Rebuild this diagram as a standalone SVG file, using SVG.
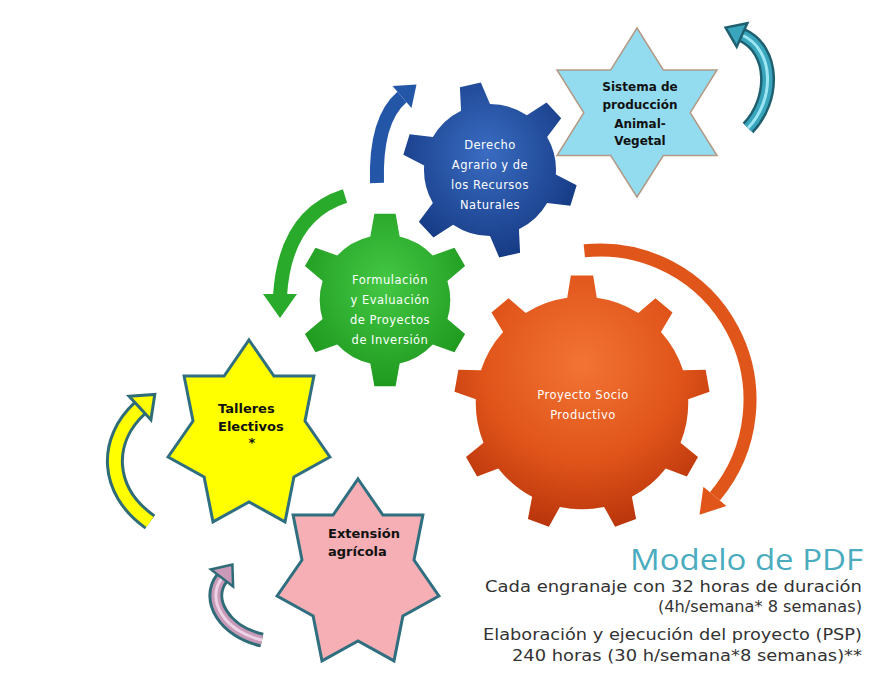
<svg xmlns="http://www.w3.org/2000/svg" width="870" height="673" viewBox="0 0 870 673">
<style>
.gt{font-family:"DejaVu Sans","Liberation Sans",sans-serif;font-size:11.5px;letter-spacing:0.5px;fill:#ffffff;text-anchor:middle}
.st{font-family:"DejaVu Sans","Liberation Sans",sans-serif;font-weight:bold;font-size:12px;fill:#111111}
.foot{font-family:"DejaVu Sans","Liberation Sans",sans-serif;font-size:15px;fill:#333333;text-anchor:end}
.star{stroke:#2f6f80;stroke-width:3;stroke-linejoin:miter}
</style>
<defs>
<path id="gear6" d="M -16.87 -73.08 L -12.19 -99.25 L 12.19 -99.25 L 16.87 -73.08 A 75 75 0 0 1 54.85 -51.15 L 79.86 -60.18 L 92.05 -39.07 L 71.72 -21.93 A 75 75 0 0 1 71.72 21.93 L 92.05 39.07 L 79.86 60.18 L 54.85 51.15 A 75 75 0 0 1 16.87 73.08 L 12.19 99.25 L -12.19 99.25 L -16.87 73.08 A 75 75 0 0 1 -54.85 51.15 L -79.86 60.18 L -92.05 39.07 L -71.72 21.93 A 75 75 0 0 1 -71.72 -21.93 L -92.05 -39.07 L -79.86 -60.18 L -54.85 -51.15 A 75 75 0 0 1 -16.87 -73.08 Z"/>
<path id="gear9" d="M -11.55 -82.19 L -8.72 -99.62 L 8.72 -99.62 L 11.55 -82.19 A 83 83 0 0 1 43.98 -70.39 L 57.36 -81.92 L 70.71 -70.71 L 61.68 -55.54 A 83 83 0 0 1 78.94 -25.65 L 96.59 -25.88 L 99.62 -8.72 L 82.95 -2.90 A 83 83 0 0 1 76.96 31.09 L 90.63 42.26 L 81.92 57.36 L 65.40 51.10 A 83 83 0 0 1 38.97 73.28 L 42.26 90.63 L 25.88 96.59 L 17.26 81.19 A 83 83 0 0 1 -17.26 81.19 L -25.88 96.59 L -42.26 90.63 L -38.97 73.28 A 83 83 0 0 1 -65.40 51.10 L -81.92 57.36 L -90.63 42.26 L -76.96 31.09 A 83 83 0 0 1 -82.95 -2.90 L -99.62 -8.72 L -96.59 -25.88 L -78.94 -25.65 A 83 83 0 0 1 -61.68 -55.54 L -70.71 -70.71 L -57.36 -81.92 L -43.98 -70.39 A 83 83 0 0 1 -11.55 -82.19 Z"/>
<radialGradient id="gBlue" cx="50%" cy="40%" r="60%">
<stop offset="0" stop-color="#3a6cc2"/><stop offset="1" stop-color="#163b85"/>
</radialGradient>
<radialGradient id="gGreen" cx="50%" cy="40%" r="60%">
<stop offset="0" stop-color="#44c844"/><stop offset="1" stop-color="#1f9a1f"/>
</radialGradient>
<radialGradient id="gOrange" cx="50%" cy="35%" r="65%">
<stop offset="0" stop-color="#f27434"/><stop offset="0.6" stop-color="#e0541a"/><stop offset="1" stop-color="#bb360c"/>
</radialGradient>
</defs>

<g id="connectors" fill="none">
<g id="arrow-blue">
<path d="M 377 183 Q 375 120 402 97" stroke="#2456a8" stroke-width="14"/>
<polygon points="392.5,86 416.5,84.5 411.5,108" fill="#2456a8"/>
</g>
<g id="arrow-green">
<path d="M 345 196 Q 285 215 280 296" stroke="#2aaa2a" stroke-width="14"/>
<polygon points="263,294 297,294 280,318" fill="#2aaa2a"/>
</g>
<g id="arrow-orange">
<path d="M 584.3 250.8 A 150 150 0 0 1 714.9 496.4" stroke="#e0561a" stroke-width="13"/>
<polygon points="726.4,506 703.4,486.8 699.5,514.8" fill="#e0561a"/>
</g>
<g id="arrow-teal">
<path d="M 748 128 C 775 100 775 50 742 35" stroke="#1e6070" stroke-width="15"/>
<path d="M 748 128 C 775 100 775 50 742 35" stroke="#3aa6bd" stroke-width="10"/>
<path d="M 748 128 C 775 100 775 50 742 35" stroke="#9be6f2" stroke-width="3"/>
<polygon points="747.3,23.2 736.7,46.8 725.6,27.6" fill="#3aa6bd" stroke="#1e6070" stroke-width="2.5"/>
</g>
<g id="arrow-yellow">
<path d="M 150 522 C 105 490 105 440 140 408" stroke="#2e6c78" stroke-width="18"/>
<path d="M 150 522 C 105 490 105 440 140 408" stroke="#ffff00" stroke-width="12"/>
<polygon points="150.9,419.8 129.1,396.2 154.8,394.4" fill="#ffff00" stroke="#2e6c78" stroke-width="3"/>
</g>
<g id="arrow-pink">
<path d="M 262 640 C 225 632 205 600 222 578" stroke="#2e6c78" stroke-width="15"/>
<path d="M 262 640 C 225 632 205 600 222 578" stroke="#c99ab8" stroke-width="9"/>
<path d="M 262 640 C 225 632 205 600 222 578" stroke="#ecd2e4" stroke-width="3"/>
<polygon points="233.1,586.5 210.9,569.5 232.4,564.6" fill="#c99ab8" stroke="#2e6c78" stroke-width="2.5"/>
</g>
</g>

<g id="node-formulacion">
<use href="#gear6" transform="translate(385,300) scale(0.87)" fill="url(#gGreen)"/>
<text class="gt" x="390" y="284">Formulación</text>
<text class="gt" x="390" y="304">y Evaluación</text>
<text class="gt" x="390" y="324">de Proyectos</text>
<text class="gt" x="390" y="344">de Inversión</text>
</g>

<g id="node-derecho">
<use href="#gear6" transform="translate(490,170) rotate(-13) scale(0.88)" fill="url(#gBlue)"/>
<text class="gt" x="490" y="149">Derecho</text>
<text class="gt" x="490" y="169">Agrario y de</text>
<text class="gt" x="490" y="189">los Recursos</text>
<text class="gt" x="490" y="209">Naturales</text>
</g>

<g id="node-proyecto">
<use href="#gear9" transform="translate(582,403) scale(1.28)" fill="url(#gOrange)"/>
<text class="gt" x="583" y="399">Proyecto Socio</text>
<text class="gt" x="583" y="419">Productivo</text>
</g>

<g id="node-sistema">
<polygon fill="#93dcef" style="stroke:#b39a86;stroke-width:1.5" points="637,28 663.3,70 717,70 690.2,112.75 717,155.5 663.3,155.5 637,197 610.7,155.5 557,155.5 583.8,112.75 557,70 610.7,70"/>
<text class="st" x="640" y="90.5" text-anchor="middle">Sistema de</text>
<text class="st" x="640" y="109" text-anchor="middle">producción</text>
<text class="st" x="640" y="127.5" text-anchor="middle">Animal-</text>
<text class="st" x="640" y="145" text-anchor="middle">Vegetal</text>
</g>

<g id="node-talleres">
<polygon class="star" fill="#ffff00" points="249,340 273.9,376 313.9,376 305,421 329.9,457 293.9,477 285,521.9 249,501.9 213,521.9 204.1,477 168.1,457 193,421 184.1,376 224.1,376"/>
<text class="st" x="218" y="413" style="font-size:13px">Talleres</text>
<text class="st" x="218" y="431" style="font-size:13px">Electivos</text>
<text class="st" x="252" y="447" text-anchor="middle" style="font-size:13px">*</text>
</g>

<g id="node-extension">
<polygon class="star" fill="#f5afb5" points="358,479 382.9,515 422.9,515 414,560 438.9,596 402.9,616 394,660.9 358,640.9 322,660.9 313.1,616 277.1,596 302,560 293.1,515 333.1,515"/>
<text class="st" x="328" y="538" style="font-size:13px">Extensión</text>
<text class="st" x="328" y="556" style="font-size:13px">agrícola</text>
</g>

<g id="caption">
<text x="863" y="570" text-anchor="end" textLength="233" lengthAdjust="spacingAndGlyphs" style="font-family:'Open Sans','DejaVu Sans',sans-serif;font-size:30px;fill:#4aacbe">Modelo de PDF</text>
<text class="foot" x="862" y="592" textLength="377" lengthAdjust="spacingAndGlyphs">Cada engranaje con 32 horas de duración</text>
<text class="foot" x="862" y="612" textLength="204" lengthAdjust="spacingAndGlyphs">(4h/semana* 8 semanas)</text>
<text class="foot" x="862" y="640" textLength="379" lengthAdjust="spacingAndGlyphs">Elaboración y ejecución del proyecto (PSP)</text>
<text class="foot" x="862" y="661" textLength="350" lengthAdjust="spacingAndGlyphs">240 horas (30 h/semana*8 semanas)**</text>
</g>
</svg>
